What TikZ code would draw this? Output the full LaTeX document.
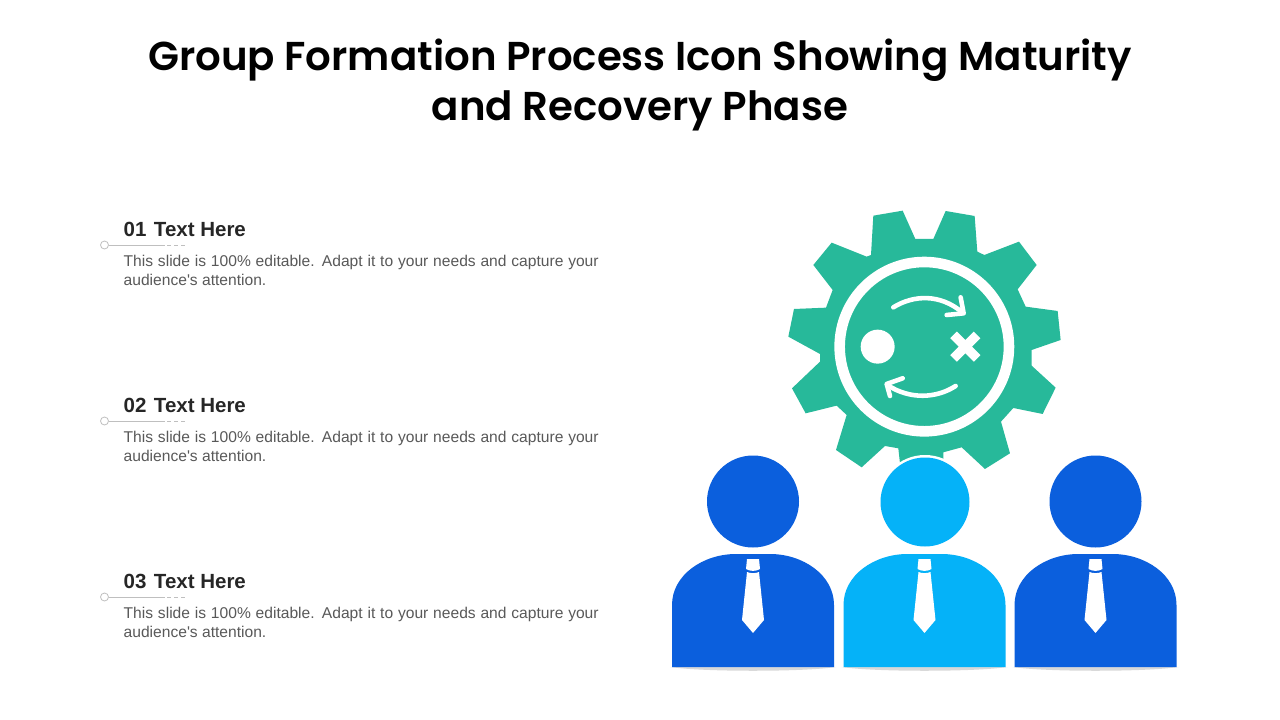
\documentclass[tikz,border=0pt]{standalone}
\usepackage{fontspec}
\setmainfont{Liberation Sans}[Ligatures=TeXOff]
\newfontfamily\titlefont{Poppins}[BoldFont={Poppins SemiBold}]
\definecolor{teal1}{HTML}{27B99A}
\definecolor{blue1}{HTML}{0B5FDD}
\definecolor{cyan1}{HTML}{05B2F8}
\definecolor{headc}{HTML}{262626}
\definecolor{bodyc}{HTML}{595959}
\definecolor{linec}{HTML}{BFBFBF}
\definecolor{shadowc}{HTML}{D9D9D9}
\tikzset{
  titletext/.style={anchor=center,align=center,font=\fontsize{40.3}{50}\selectfont\titlefont\bfseries,text=black,inner sep=0pt},
  headtext/.style={anchor=west,font=\fontsize{20.5}{24}\selectfont\bfseries,text=headc,inner sep=0pt},
  bodytext/.style={anchor=north west,align=left,font=\fontsize{15.6}{19}\selectfont,text=bodyc,inner sep=0pt},
  iconline/.style={white,line width=4.6pt,line cap=round,line join=round},
}
\newcommand{\personbody}[2]{%
  \fill[shadowc] (#1-83,667) .. controls (#1-50,672) and (#1+50,672) .. (#1+83,667) -- cycle;
  \fill[#2] (#1-81,667) -- (#1-81,605) .. controls (#1-81,575) and (#1-50,554) .. (#1-17,554)
     -- (#1+17,554) .. controls (#1+50,554) and (#1+81,575) .. (#1+81,605) -- (#1+81,667) -- cycle;
  \fill[white] (#1-6,559) -- (#1+6,559) -- (#1+7,569) .. controls (#1+3,571.5) and (#1-3,571.5) .. (#1-7,569) -- cycle;
  \fill[white] (#1-6,572) .. controls (#1-3,573.5) and (#1+3,573.5) .. (#1+6,572) -- (#1+11,620) -- (#1,633) -- (#1-11,620) -- cycle;
}
\begin{document}
\begin{tikzpicture}[x=1pt,y=-1pt]
\useasboundingbox (0,0) rectangle (1280,720);
\fill[white] (0,0) rectangle (1280,720);
\node[titletext] (title) at (640,85) {Group Formation Process Icon Showing Maturity\\and Recovery Phase};
\foreach \n/\dy in {01/0,02/176,03/352}{
  \node[headtext] (h\n) at (123.5,229+\dy) {\n\hspace{7.5pt}Text Here};
  \coordinate (le\n) at (165,245+\dy);
  \coordinate (de\n) at (187,245+\dy);
  \node[circle,draw=linec,fill=white,line width=.8pt,minimum size=8pt,inner sep=0pt] (c\n) at (104.5,245+\dy) {};
  \draw[linec,line width=.8pt] (c\n) -- (le\n);
  \draw[linec,line width=.8pt,dash pattern=on 4pt off 3pt] (le\n) ++(2,0) -- (de\n);
  \node[bodytext] (b\n) at (123.5,255+\dy) {\makebox[475pt][s]{This slide is 100\% editable. Adapt it to your needs and capture your}\\audience's attention.};
}
% gear
\begin{scope}[shift={(770,200)},x=.3333pt,y=-.3333pt]
\fill[teal1] (310,47)--(398,32)--(436,117)--(490,117)--(527,33)--(614,48)--(622,155)--(643,165)--(747,125)--(800,195)--(743,268)--(767,320)--(863,333)--(872,420)--(785,450)--(785,497)--(857,563)--(818,642)--(730,624)--(693,665)--(720,760)--(645,807)--(575,742)--(520,757)--(520,790)--(390,790)--(385,745)--(345,738)--(275,802)--(198,750)--(230,645)--(200,617)--(107,640)--(66,565)--(150,485)--(150,462)--(55,410)--(72,327)--(168,323)--(188,270)--(130,195)--(185,128)--(290,170)--(303,165)--cycle;
\draw[white,line width=10.6pt] (463,440) circle[radius=254];
\fill[white] (323,440) circle[radius=51];
\draw[iconline] (370,322) .. controls (430,285) and (510,280) .. (578,338);
\draw[iconline] (572,292) -- (581,340) -- (530,345);
\draw[iconline] (557,558) .. controls (500,595) and (420,600) .. (352,555);
\draw[iconline] (398,535) -- (350,552) -- (360,588);
\fill[white,shift={(586,440)},rotate=45] (-14,-50) rectangle (14,50) (-50,-14) rectangle (50,14);
\end{scope}
% people
\personbody{753}{blue1}
\personbody{924.5}{cyan1}
\personbody{1095.5}{blue1}
\fill[blue1] (753,501.5) circle[radius=46];
\fill[blue1] (1095.5,501.5) circle[radius=46];
\fill[white] (925,502) circle[radius=47];
\fill[cyan1] (925,502) circle[radius=44.5];
\end{tikzpicture}
\end{document}
